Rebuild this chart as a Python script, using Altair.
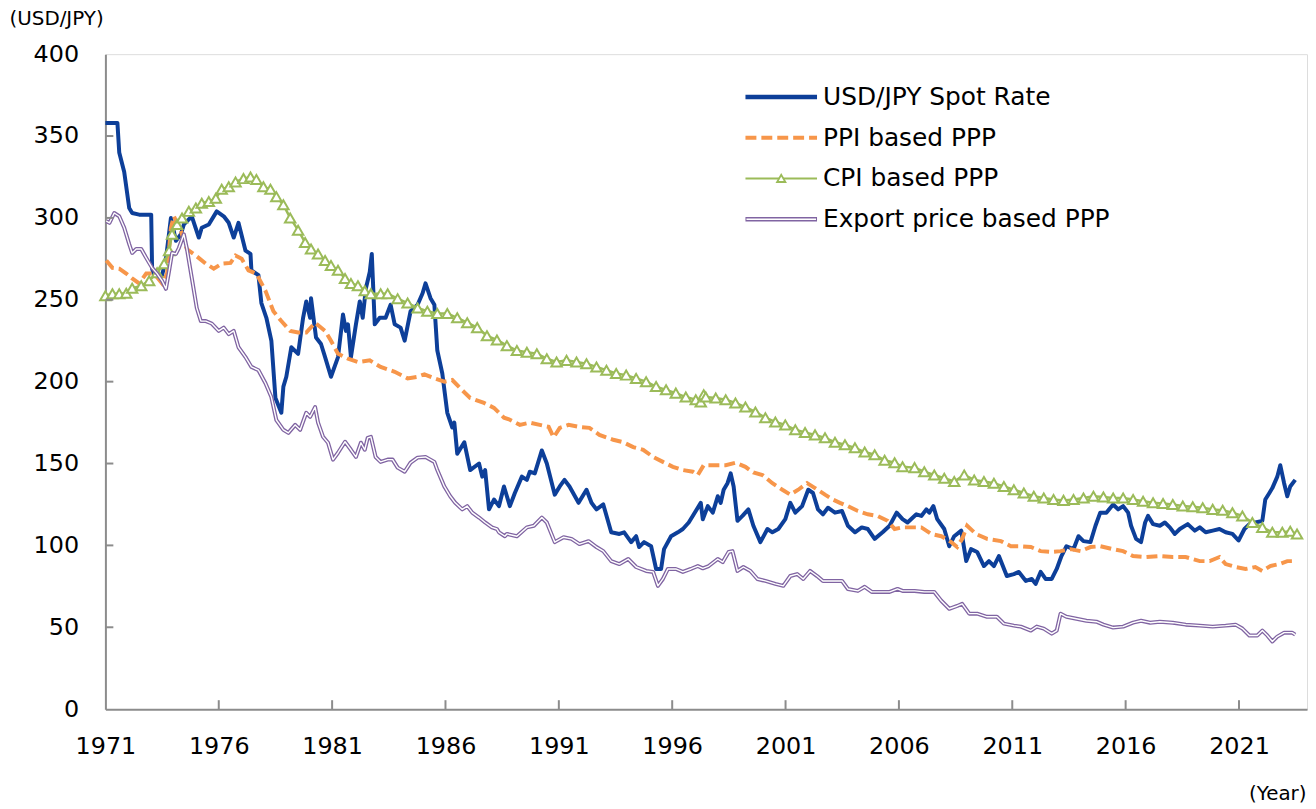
import altair as alt
import pandas as pd

# ---------------- data (year, value) ----------------
spot = [
    (1971.00, 358), (1971.53, 358), (1971.61, 340), (1971.83, 328), (1972.05, 306), (1972.18, 303),
    (1972.49, 302), (1973.02, 302), (1973.06, 269), (1973.15, 265), (1973.50, 265), (1973.67, 275),
    (1973.89, 300), (1974.11, 286), (1974.33, 290), (1974.46, 296), (1974.81, 301), (1975.12, 288),
    (1975.25, 294), (1975.56, 296), (1975.91, 304), (1976.22, 301), (1976.44, 297), (1976.66, 288),
    (1976.87, 297), (1977.18, 280), (1977.40, 278), (1977.44, 268), (1977.75, 265), (1977.88, 248),
    (1978.10, 239), (1978.32, 225), (1978.50, 190), (1978.76, 181), (1978.85, 197), (1978.98, 203),
    (1979.20, 221), (1979.50, 217), (1979.72, 239), (1979.86, 249), (1980.03, 239), (1980.07, 251),
    (1980.29, 227), (1980.51, 223), (1980.69, 215), (1980.95, 203), (1981.26, 215), (1981.48, 241),
    (1981.61, 231), (1981.70, 235), (1981.83, 215), (1982.05, 235), (1982.22, 249), (1982.35, 239),
    (1982.49, 257), (1982.66, 267), (1982.75, 278), (1982.88, 235), (1983.10, 239), (1983.36, 239),
    (1983.58, 247), (1983.76, 235), (1984.02, 233), (1984.20, 225), (1984.46, 243), (1984.77, 247),
    (1984.99, 254), (1985.12, 260), (1985.34, 251), (1985.51, 247), (1985.64, 219), (1985.86, 205),
    (1986.08, 181), (1986.30, 172), (1986.39, 175), (1986.52, 156), (1986.83, 163), (1987.09, 146),
    (1987.48, 150), (1987.62, 142), (1987.75, 146), (1987.92, 122), (1988.14, 128), (1988.36, 124),
    (1988.58, 136), (1988.84, 124), (1989.06, 132), (1989.37, 142), (1989.59, 140), (1989.72, 145),
    (1989.94, 144), (1990.25, 158), (1990.47, 150), (1990.82, 131), (1991.04, 136), (1991.25, 140),
    (1991.47, 136), (1991.87, 126), (1992.22, 134), (1992.44, 126), (1992.66, 122), (1992.96, 125),
    (1993.31, 108), (1993.67, 107), (1993.88, 108), (1994.19, 102), (1994.41, 105.6), (1994.54, 99),
    (1994.76, 102), (1995.07, 99.5), (1995.29, 85.6), (1995.51, 85.6), (1995.64, 97.7), (1995.95, 105.6),
    (1996.25, 108), (1996.47, 110), (1996.73, 114), (1997.04, 121), (1997.26, 126), (1997.35, 116),
    (1997.57, 124), (1997.79, 120), (1998.01, 130), (1998.14, 126), (1998.27, 134), (1998.44, 138),
    (1998.58, 144), (1998.71, 136), (1998.88, 115), (1999.10, 118), (1999.36, 122), (1999.58, 112),
    (1999.89, 102), (2000.20, 110), (2000.42, 108), (2000.68, 110), (2000.99, 116), (2001.21, 126),
    (2001.43, 120), (2001.73, 124), (2002.00, 134), (2002.21, 132), (2002.43, 122), (2002.65, 119),
    (2002.87, 123), (2003.18, 120), (2003.49, 121), (2003.75, 112), (2004.06, 108), (2004.36, 111),
    (2004.63, 110), (2004.93, 104), (2005.28, 108), (2005.59, 112), (2005.90, 120), (2006.16, 116),
    (2006.38, 114), (2006.77, 119), (2006.99, 118), (2007.21, 122), (2007.34, 120), (2007.52, 124),
    (2007.69, 116), (2008.00, 110), (2008.22, 99.5), (2008.44, 105.6), (2008.75, 109), (2008.97, 90.4),
    (2009.18, 97.7), (2009.45, 96), (2009.75, 87.4), (2009.97, 90.4), (2010.19, 87.4), (2010.41, 93.5),
    (2010.76, 81.3), (2011.07, 82.5), (2011.29, 83.8), (2011.60, 78.3), (2011.86, 79.5), (2012.03, 76.5),
    (2012.25, 83.8), (2012.47, 79.5), (2012.74, 79.5), (2012.96, 85.6), (2013.17, 93.5), (2013.39, 99.5),
    (2013.70, 97.7), (2013.92, 105.6), (2014.14, 102.6), (2014.45, 102), (2014.67, 112), (2014.88, 120),
    (2015.15, 120), (2015.45, 125), (2015.67, 122), (2015.89, 124), (2016.11, 120), (2016.24, 112),
    (2016.46, 104), (2016.68, 102), (2016.86, 114), (2016.99, 118), (2017.21, 113), (2017.51, 112),
    (2017.73, 114), (2017.95, 111), (2018.17, 107), (2018.39, 110), (2018.74, 113), (2019.05, 109),
    (2019.27, 111), (2019.53, 108), (2019.84, 109), (2020.14, 110), (2020.41, 108), (2020.71, 107),
    (2020.98, 103), (2021.24, 110), (2021.46, 113), (2021.72, 114), (2022.03, 115), (2022.16, 128),
    (2022.34, 132), (2022.47, 135), (2022.69, 142), (2022.82, 149), (2022.99, 138), (2023.13, 130),
    (2023.26, 136), (2023.48, 140),
]

ppi = [
    (1971.04, 274), (1971.31, 269.5), (1971.61, 269), (1971.92, 266), (1972.18, 263), (1972.49, 260),
    (1972.80, 266), (1973.15, 266), (1973.50, 260), (1973.72, 266), (1973.89, 294), (1974.02, 301),
    (1974.33, 292), (1974.59, 281), (1974.99, 277), (1975.43, 272), (1975.78, 269), (1976.13, 272),
    (1976.52, 272.5), (1976.74, 277), (1977.01, 275), (1977.31, 268), (1977.66, 266), (1978.06, 255.5),
    (1978.41, 243), (1978.76, 237), (1979.15, 231), (1979.50, 230), (1979.86, 230), (1980.25, 236),
    (1980.69, 231), (1980.95, 225), (1981.26, 217), (1981.70, 214), (1982.14, 212), (1982.66, 213),
    (1983.14, 209), (1983.76, 206), (1984.33, 202), (1984.77, 203), (1985.07, 204.5), (1985.51, 202),
    (1985.95, 200), (1986.30, 201), (1986.65, 196), (1987.09, 190), (1987.70, 187), (1988.14, 184),
    (1988.58, 178), (1988.80, 177), (1989.28, 173.6), (1989.72, 175), (1990.16, 173.6), (1990.55, 172.4),
    (1990.77, 166), (1991.04, 171.8), (1991.43, 173.6), (1991.87, 172.4), (1992.35, 171.8), (1992.79, 167.5),
    (1993.40, 164.5), (1993.84, 163), (1994.28, 160), (1994.72, 158.4), (1995.16, 154), (1995.59, 151),
    (1996.03, 148), (1996.47, 146), (1996.91, 145), (1997.13, 143), (1997.39, 149), (1997.92, 149),
    (1998.36, 149), (1998.79, 150.5), (1999.23, 148), (1999.58, 144.5), (1999.98, 143), (2000.42, 138),
    (2000.86, 134), (2001.21, 131), (2001.56, 134), (2001.95, 138), (2002.30, 135), (2002.74, 131),
    (2003.09, 128), (2003.40, 126), (2003.75, 124), (2004.19, 121), (2004.63, 119), (2005.06, 118),
    (2005.50, 115), (2005.81, 110), (2006.16, 111), (2006.99, 111), (2007.43, 107), (2007.87, 105.6),
    (2008.31, 102), (2008.57, 99), (2008.79, 104), (2009.01, 112), (2009.40, 107), (2009.89, 104),
    (2010.50, 102.6), (2010.94, 99.5), (2011.38, 99.5), (2011.82, 99), (2012.25, 96.5), (2012.69, 96),
    (2013.13, 96.5), (2013.57, 97.7), (2014.01, 96.5), (2014.45, 99), (2014.88, 99.5), (2015.45, 97.7),
    (2015.89, 96.5), (2016.33, 93.5), (2016.90, 92.9), (2017.51, 93.5), (2018.08, 92.9), (2018.65, 92.9),
    (2019.27, 90.4), (2019.71, 90.4), (2020.14, 92.9), (2020.41, 88.6), (2020.85, 86.8), (2021.29, 85.6),
    (2021.72, 86.8), (2022.03, 84.4), (2022.38, 87.4), (2022.78, 88.6), (2023.13, 90.4), (2023.48, 90.4),
]

cpi = [
    (1971.00, 252.5), (1971.31, 253.7), (1971.61, 253.7), (1971.92, 254), (1972.18, 257), (1972.58, 258.6),
    (1972.93, 261.6), (1973.28, 266.5), (1973.59, 272), (1973.81, 280), (1973.94, 290), (1974.16, 296),
    (1974.38, 300), (1974.68, 304), (1974.99, 306), (1975.25, 309), (1975.56, 310), (1975.87, 312),
    (1976.13, 317.5), (1976.44, 319), (1976.74, 322), (1977.09, 324), (1977.40, 325), (1977.66, 323.5),
    (1977.97, 319), (1978.28, 317.5), (1978.54, 313), (1978.85, 308), (1979.15, 300), (1979.50, 292.5),
    (1979.81, 285), (1980.07, 281), (1980.38, 278), (1980.69, 274), (1980.95, 271), (1981.26, 268),
    (1981.57, 263), (1981.83, 260), (1982.14, 258.6), (1982.44, 255.5), (1982.71, 253.7), (1983.14, 253.7),
    (1983.45, 253.7), (1983.89, 250.7), (1984.33, 248), (1984.77, 245), (1985.20, 243), (1985.64, 241.6),
    (1986.08, 241.6), (1986.52, 239), (1986.96, 236), (1987.40, 233), (1987.83, 228), (1988.27, 225.5),
    (1988.71, 222), (1989.15, 219), (1989.59, 218), (1990.03, 217), (1990.47, 214), (1990.90, 212),
    (1991.34, 213), (1991.78, 212), (1992.22, 211), (1992.66, 209), (1993.10, 207), (1993.53, 205),
    (1993.97, 204), (1994.41, 202), (1994.85, 200), (1995.29, 197), (1995.73, 195), (1996.16, 193),
    (1996.60, 190.6), (1997.04, 189), (1997.26, 187.6), (1997.39, 192), (1997.48, 190.6), (1997.92, 190),
    (1998.36, 189), (1998.79, 187), (1999.23, 184.5), (1999.67, 181.5), (2000.11, 178), (2000.55, 175.4),
    (2000.99, 173.6), (2001.43, 170.6), (2001.86, 169), (2002.30, 167.5), (2002.74, 165.7), (2003.18, 163),
    (2003.62, 161.5), (2004.06, 159.6), (2004.49, 157), (2004.93, 155.4), (2005.37, 152), (2005.81, 150.5),
    (2006.16, 148), (2006.69, 147.5), (2007.12, 145), (2007.56, 143), (2008.00, 141), (2008.44, 139),
    (2008.88, 143), (2009.32, 140), (2009.75, 139), (2010.19, 138), (2010.63, 136), (2011.07, 134),
    (2011.51, 132), (2011.95, 130), (2012.39, 129), (2012.82, 128), (2013.26, 127.5), (2013.70, 128),
    (2014.14, 129), (2014.58, 130), (2015.02, 129.5), (2015.45, 129), (2015.89, 129), (2016.33, 128),
    (2016.77, 127), (2017.21, 126), (2017.65, 125.6), (2018.08, 125), (2018.52, 124), (2018.96, 123.6),
    (2019.40, 123), (2019.84, 122), (2020.28, 121.5), (2020.71, 120), (2021.15, 118), (2021.59, 114),
    (2022.03, 111), (2022.47, 108), (2022.91, 108), (2023.26, 108.7), (2023.56, 107),
]

export = [
    (1971.04, 298), (1971.18, 297), (1971.39, 303), (1971.61, 301), (1971.83, 294), (1972.05, 284),
    (1972.18, 278.6), (1972.36, 281), (1972.58, 281), (1972.80, 275.6), (1973.06, 269.5), (1973.28, 266),
    (1973.50, 261.6), (1973.67, 256.7), (1973.81, 267.7), (1973.94, 278.6), (1974.11, 278), (1974.24, 281.6),
    (1974.46, 290), (1974.59, 281.6), (1974.81, 263.4), (1975.03, 245), (1975.21, 237), (1975.43, 237),
    (1975.69, 235.5), (1976.00, 231), (1976.22, 233), (1976.44, 229), (1976.66, 231), (1976.87, 221),
    (1977.18, 215), (1977.44, 209), (1977.75, 207), (1978.06, 199), (1978.32, 190.6), (1978.54, 176.6),
    (1978.85, 170.6), (1979.07, 168.7), (1979.37, 173.6), (1979.59, 170.6), (1979.86, 181), (1980.03, 178.5),
    (1980.25, 184.5), (1980.38, 175), (1980.60, 166.3), (1980.82, 162.7), (1981.04, 152.4), (1981.26, 156.6),
    (1981.57, 163.3), (1981.83, 158.4), (1982.05, 154), (1982.27, 162.7), (1982.44, 158.4), (1982.57, 165.7),
    (1982.71, 166.3), (1982.92, 154), (1983.14, 151), (1983.45, 152.4), (1983.67, 152.4), (1983.89, 147.5),
    (1984.20, 145), (1984.46, 150.5), (1984.77, 153.6), (1985.12, 154), (1985.51, 151), (1985.64, 146),
    (1985.95, 136), (1986.21, 130), (1986.43, 126), (1986.74, 122), (1986.96, 124), (1987.18, 120),
    (1987.48, 117), (1987.75, 114), (1988.05, 111), (1988.27, 110), (1988.36, 108), (1988.62, 105.6),
    (1988.71, 107), (1989.15, 105.6), (1989.59, 111), (1989.90, 112), (1990.25, 117), (1990.47, 114),
    (1990.82, 102), (1991.21, 105), (1991.56, 104), (1991.91, 100.8), (1992.31, 102.6), (1992.66, 99),
    (1992.96, 96.5), (1993.31, 90.4), (1993.67, 88.6), (1994.06, 91.7), (1994.41, 86.8), (1994.85, 84.4),
    (1995.16, 83.8), (1995.37, 75.3), (1995.59, 79.5), (1995.81, 85.6), (1996.16, 85.6), (1996.47, 83.8),
    (1996.82, 85.6), (1997.13, 87.4), (1997.35, 86), (1997.61, 87.4), (1998.01, 91.7), (1998.23, 89.8),
    (1998.49, 96), (1998.66, 96.5), (1998.88, 84.4), (1999.14, 86.8), (1999.45, 84.4), (1999.76, 79.5),
    (2000.11, 78.3), (2000.55, 76.5), (2000.90, 75.3), (2001.21, 81.3), (2001.51, 82.5), (2001.78, 79.5),
    (2002.08, 84.4), (2002.39, 81.3), (2002.65, 78.3), (2003.05, 78.3), (2003.49, 78.3), (2003.75, 73.4),
    (2004.19, 72.2), (2004.49, 74.7), (2004.80, 71.6), (2005.24, 71.6), (2005.59, 71.6), (2005.94, 73.4),
    (2006.16, 72.2), (2006.69, 72.2), (2007.12, 71.6), (2007.56, 71.6), (2007.87, 66.2), (2008.22, 61.3),
    (2008.57, 63), (2008.79, 64.3), (2009.10, 58.3), (2009.45, 58.3), (2009.89, 56.4), (2010.32, 56.4),
    (2010.63, 52.2), (2011.07, 51), (2011.38, 50.4), (2011.82, 48), (2012.08, 50.4), (2012.39, 49.2),
    (2012.74, 46.1), (2012.96, 48), (2013.13, 58.3), (2013.39, 56.4), (2013.83, 55.2), (2014.27, 54),
    (2014.71, 53.4), (2015.02, 51.6), (2015.45, 49.8), (2015.89, 50.4), (2016.33, 52.8), (2016.68, 54),
    (2017.08, 52.8), (2017.51, 53.4), (2018.08, 52.8), (2018.65, 51.6), (2019.27, 51), (2019.84, 50.4),
    (2020.41, 51), (2020.85, 51.6), (2021.15, 49.2), (2021.46, 45), (2021.81, 45), (2022.03, 48),
    (2022.25, 45), (2022.47, 41.3), (2022.69, 44.3), (2022.99, 46.7), (2023.34, 46.7), (2023.48, 45.5),
]

series_labels = ["USD/JPY Spot Rate", "PPI based PPP", "CPI based PPP", "Export price based PPP"]
x_tick_years = [1971, 1976, 1981, 1986, 1991, 1996, 2001, 2006, 2011, 2016, 2021]
y_tick_values = [0, 50, 100, 150, 200, 250, 300, 350, 400]

# ---------------- styling ----------------
W, H = 1209, 659
FONT = "DejaVu Sans"
GRAY = "#8c8c8c"
BLUE = "#0d3f99"
ORANGE = "#f7964a"
GREEN = "#9bbb59"
PURPLE = "#8064a2"


def df(pairs):
    return pd.DataFrame(pairs, columns=["year", "value"])


xscale = alt.Scale(domain=[1971, 2024], nice=False, zero=False)
yscale = alt.Scale(domain=[0, 400], nice=False)

xaxis = alt.Axis(values=x_tick_years, format="d", ticks=False, tickSize=0, grid=False,
                 labelFontSize=24, labelFont=FONT, labelColor="black", labelPadding=26,
                 labelFlush=False, labelOverlap=False, labelBound=False,
                 domainColor=GRAY, domainWidth=2,
                 title="(Year)", titleFont=FONT, titleFontSize=20, titleFontWeight="normal",
                 titleColor="black", titleX=1208, titleY=85, titleAlign="right",
                 titleBaseline="middle", titleAngle=0)
yaxis = alt.Axis(values=y_tick_values, ticks=False, tickSize=0, grid=False,
                 labelFontSize=24, labelFont=FONT, labelColor="black", labelPadding=27,
                 labelOverlap=False, labelBound=False,
                 domainColor=GRAY, domainWidth=2,
                 title="(USD/JPY)", titleFont=FONT, titleFontSize=20, titleFontWeight="normal",
                 titleColor="black", titleX=-97, titleY=-36, titleAlign="left",
                 titleBaseline="middle", titleAngle=0)

X = alt.X("year:Q", scale=xscale, axis=xaxis)
Y = alt.Y("value:Q", scale=yscale, axis=yaxis)

layers = []
layers.append(alt.Chart(df(spot)).mark_line(color=BLUE, strokeWidth=4, strokeJoin="round")
              .encode(x=X, y=Y))
layers.append(alt.Chart(df(ppi)).mark_line(color=ORANGE, strokeWidth=4, strokeDash=[11, 5])
              .encode(x=X, y=Y))
layers.append(alt.Chart(df(cpi)).mark_line(color=GREEN, strokeWidth=2.5)
              .encode(x=X, y=Y))
layers.append(alt.Chart(df(cpi)).mark_point(shape="triangle-up", size=110, filled=True,
                                            fill="white", stroke=GREEN, strokeWidth=2,
                                            opacity=1)
              .encode(x=X, y=Y))
layers.append(alt.Chart(df(export)).mark_line(color=PURPLE, strokeWidth=4, strokeJoin="round")
              .encode(x=X, y=Y))
layers.append(alt.Chart(df(export)).mark_line(color="white", strokeWidth=1.4, strokeJoin="round")
              .encode(x=X, y=Y))

# inward tick marks
xt = pd.DataFrame({"year": x_tick_years[1:]})
layers.append(alt.Chart(xt).mark_rule(color=GRAY, strokeWidth=2)
              .encode(x=X, y=alt.value(H), y2=alt.value(H - 9)))
yt = pd.DataFrame({"value": y_tick_values[1:-1]})
layers.append(alt.Chart(yt).mark_rule(color=GRAY, strokeWidth=2)
              .encode(y=Y, x=alt.value(0), x2=alt.value(8)))

# legend (drawn manually to reproduce the line styles)
row_y = [43, 84, 125, 166]
sx0, sx1, tx = 644, 716, 722
one = pd.DataFrame({"k": [0]})
layers.append(alt.Chart(one).mark_rule(color=BLUE, strokeWidth=4.5)
              .encode(x=alt.value(sx0), x2=alt.value(sx1), y=alt.value(row_y[0])))
layers.append(alt.Chart(one).mark_rule(color=ORANGE, strokeWidth=4, strokeDash=[11, 5])
              .encode(x=alt.value(sx0), x2=alt.value(sx1), y=alt.value(row_y[1])))
layers.append(alt.Chart(one).mark_rule(color=GREEN, strokeWidth=2)
              .encode(x=alt.value(sx0), x2=alt.value(sx1), y=alt.value(row_y[2])))
layers.append(alt.Chart(one).mark_point(shape="triangle-up", size=70, filled=True, fill="white",
                                        stroke=GREEN, strokeWidth=1.8, opacity=1)
              .encode(x=alt.value((sx0 + sx1) / 2), y=alt.value(row_y[2])))
layers.append(alt.Chart(one).mark_rule(color=PURPLE, strokeWidth=4.5)
              .encode(x=alt.value(sx0), x2=alt.value(sx1), y=alt.value(row_y[3])))
layers.append(alt.Chart(one).mark_rule(color="white", strokeWidth=1.5)
              .encode(x=alt.value(sx0 + 1), x2=alt.value(sx1 - 1), y=alt.value(row_y[3])))
for lab, ry in zip(series_labels, row_y):
    layers.append(alt.Chart(one).mark_text(align="left", baseline="middle", font=FONT,
                                           fontSize=25, color="black")
                  .encode(x=alt.value(tx), y=alt.value(ry), text=alt.value(lab)))

chart = alt.layer(*layers).properties(
    width=W, height=H,
    autosize=alt.AutoSizeParams(type="none"),
    padding={"left": 98, "top": 44, "right": 1, "bottom": 95},
).configure_view(stroke=GRAY, strokeWidth=2).configure(background="white")

chart.save("out.html", embed_options={"renderer": "svg", "actions": False})
